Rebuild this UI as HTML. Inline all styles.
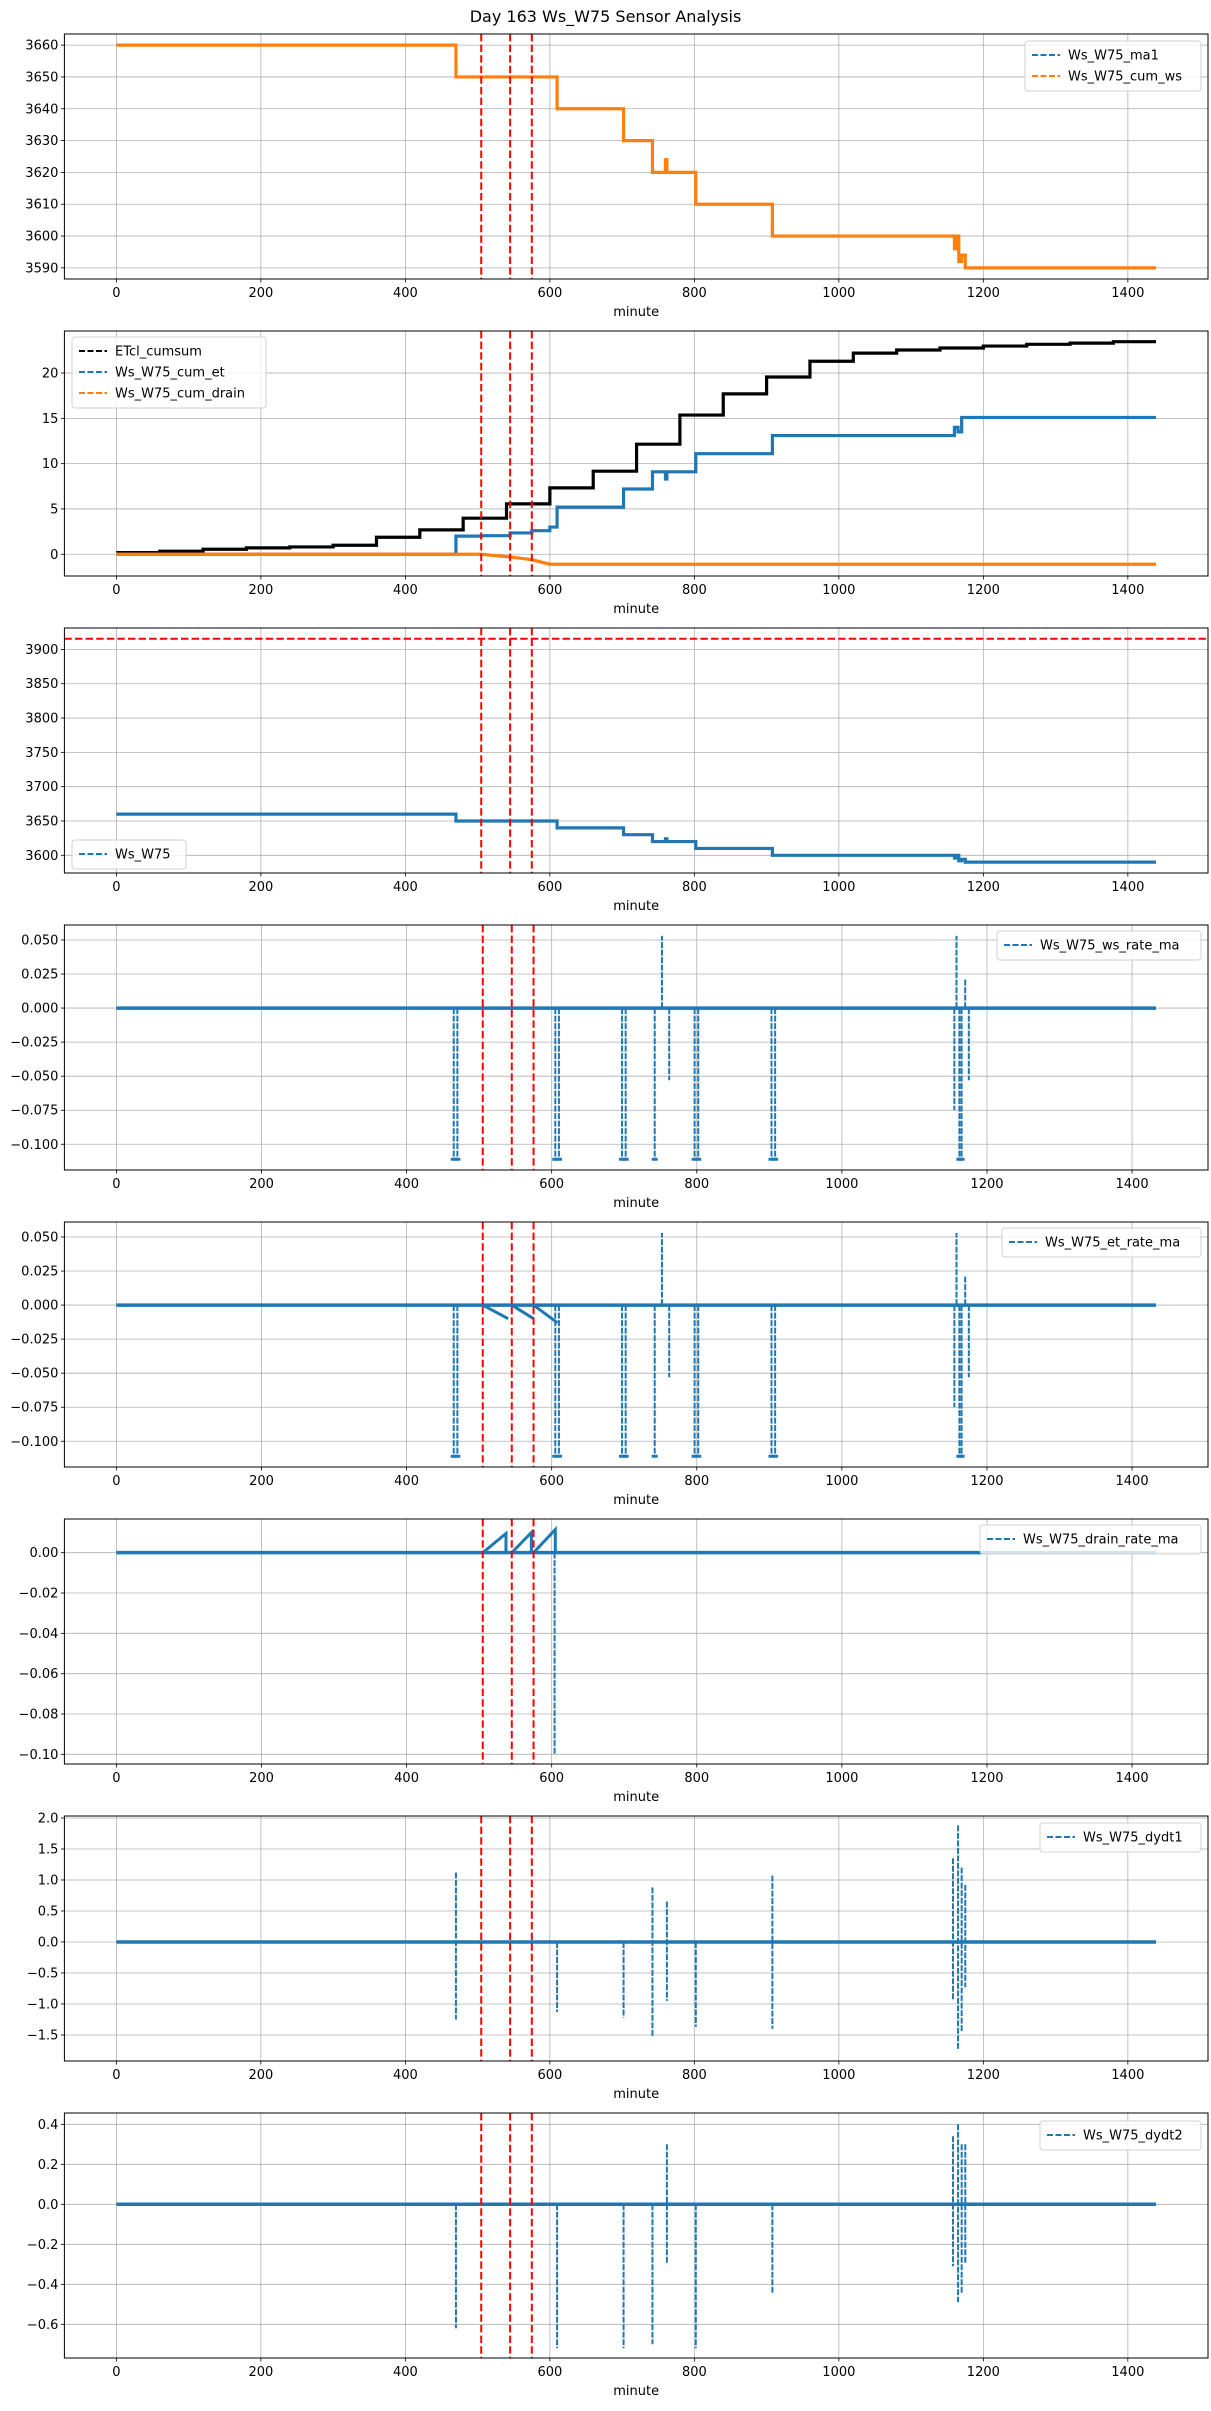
<!DOCTYPE html>
<html><head><meta charset="utf-8"><title>Day 163 Ws_W75 Sensor Analysis</title>
<style>
html,body{margin:0;padding:0;background:#fff;}
svg{display:block;font-family:"DejaVu Sans","Liberation Sans",sans-serif;}
</style></head>
<body>
<svg id="fig" width="1211" height="2411" viewBox="0 0 1211 2411" xmlns="http://www.w3.org/2000/svg">
<rect width="1211" height="2411" fill="#fff"/>
<text x="605.5" y="22" font-size="16" text-anchor="middle">Day 163 Ws_W75 Sensor Analysis</text>
</svg>
<script>
// ---- data ----
const xTickValues = [0,200,400,600,800,1000,1200,1400];
const eventMinutes = [505,545,575];
const wsMinutes = [0,470,610,702,742,760,762,802,908,1160,1163,1166,1170,1175,1439];
const wsValues = [3660,3650,3640,3630,3620,3624,3620,3610,3600,3596,3600,3592,3594,3590,3590];
const etclMinutes = [0,60,120,180,240,300,360,420,480,540,600,660,720,780,840,900,960,1020,1080,1140,1200,1260,1320,1380,1439];
const etclValues = [0.18,0.33,0.55,0.7,0.81,0.99,1.88,2.69,3.98,5.56,7.33,9.17,12.15,15.36,17.7,19.56,21.3,22.2,22.54,22.76,22.98,23.17,23.3,23.46,23.46];
const cumEtMinutes = [0,470,505,545,575,600,610,702,742,760,762,802,908,1160,1165,1170,1439];
const cumEtValues = [0,2.0,2.05,2.35,2.6,3.0,5.2,7.2,9.1,8.3,9.1,11.1,13.1,14.0,13.5,15.1,15.1];
const drainMinutes = [0,505,545,575,600,1439];
const drainValues = [0,0,-0.3,-0.6,-1.1,-1.1];
const refLevel = 3915.6;
const rateSpikeMinutes = [465,470,605,610,697,702,742,752,762,797,802,903,908,1155,1158,1162,1165,1170,1175];
const rateSpikeValues = [-0.111,-0.111,-0.111,-0.111,-0.111,-0.111,-0.111,0.053,-0.053,-0.111,-0.111,-0.111,-0.111,-0.075,0.053,-0.111,-0.111,0.022,-0.053];
const rampStart = [505,545,575];
const rampEnd = [540,575,608];
const etRampValues = [-0.01,-0.01,-0.013];
const drainRampValues = [0.0095,0.01,0.0115];
const drainSpikeMinutes = [604];
const drainSpikeValues = [-0.1];
const d1Minutes = [470,610,702,742,762,802,908,1158,1165,1170,1175];
const d1High = [1.12,0,0,0.88,0.65,0,1.07,1.35,1.88,1.2,0.92];
const d1Low = [-1.25,-1.13,-1.22,-1.52,-0.95,-1.37,-1.4,-0.95,-1.75,-1.45,-0.73];
const d2High = [0,0,0,0,0.30,0,0,0.34,0.40,0.3,0.3];
const d2Low = [-0.62,-0.72,-0.72,-0.70,-0.30,-0.72,-0.45,-0.31,-0.49,-0.45,-0.30];
const ticks1 = [3590,3600,3610,3620,3630,3640,3650,3660];
const ticks2 = [0,5,10,15,20];
const ticks3 = [3600,3650,3700,3750,3800,3850,3900];
const ticksRate = [-0.1,-0.075,-0.05,-0.025,0,0.025,0.05];
const ticksDrain = [-0.1,-0.08,-0.06,-0.04,-0.02,0];
const ticksD1 = [-1.5,-1,-0.5,0,0.5,1,1.5,2];
const ticksD2 = [-0.6,-0.4,-0.2,0,0.2,0.4];

const NS = "http://www.w3.org/2000/svg";
const svg = document.getElementById('fig');
const L = 64.4, R = 1208, H = 245;
const BLUE = '#1f77b4', ORANGE = '#ff7f0e';

function mk(tag, attrs, parent){
  const e = document.createElementNS(NS, tag);
  for (const k in attrs) e.setAttribute(k, attrs[k]);
  (parent||svg).appendChild(e);
  return e;
}

function makePanel(idx, top, ymin, ymax, xmaxData, ticks, fmt){
  const g = mk('g', {});
  
  
  const xmin = -0.05*xmaxData, xmax = xmaxData*1.05;
  const bottom = top + H;
  const sx = m => L + (m - xmin)/(xmax - xmin)*(R - L);
  const sy = v => bottom - (v - ymin)/(ymax - ymin)*H;
  const clipId = 'clip' + idx;
  const cp = mk('clipPath', {id: clipId}, g);
  mk('rect', {x: L, y: top, width: R-L, height: H}, cp);
  // grid
  xTickValues.forEach(t => {
    const x = sx(t);
    const gl = mk('line', {x1:x, x2:x, y1:top, y2:bottom, stroke:'#b0b0b0', 'stroke-width':0.8}, g);
    
    
    mk('line', {x1:x, x2:x, y1:bottom, y2:bottom+3.5, stroke:'#000', 'stroke-width':0.8}, g);
    const tl = mk('text', {x:x, y:bottom+18, 'font-size':13, 'text-anchor':'middle'}, g);
    tl.textContent = t;
    
    
  });
  ticks.forEach(t => {
    const y = sy(t);
    const gl = mk('line', {x1:L, x2:R, y1:y, y2:y, stroke:'#b0b0b0', 'stroke-width':0.8}, g);
    
    
    mk('line', {x1:L-3.5, x2:L, y1:y, y2:y, stroke:'#000', 'stroke-width':0.8}, g);
    const tl = mk('text', {x:L-6, y:y+4.5, 'font-size':13, 'text-anchor':'end'}, g);
    tl.textContent = fmt(t);
    
    
  });
  const xl = mk('text', {x:(L+R)/2, y:bottom+37, 'font-size':13, 'text-anchor':'middle'}, g);
  xl.textContent = 'minute';
  
  
  const plot = mk('g', {'clip-path':'url(#'+clipId+')'}, g);
  return {g, plot, sx, sy, top, bottom};
}

function stepPath(p, mins, vals){
  let d = '';
  for (let i=0;i<mins.length;i++){
    const x = p.sx(mins[i]), y = p.sy(vals[i]);
    if (i===0) d += 'M'+x+','+y;
    else d += 'H'+x+'V'+y;
  }
  return d;
}
function linePath(p, mins, vals){
  return mins.map((m,i)=>(i?'L':'M')+p.sx(m)+','+p.sy(vals[i])).join('');
}
function drawPath(p, d, color, w, name, dash){
  const e = mk('path', {d:d, fill:'none', stroke:color, 'stroke-width':w, 'stroke-linejoin':'miter'}, p.plot);
  if (dash) e.setAttribute('stroke-dasharray', dash);
  
  
  return e;
}
function spikes(p, mins, hi, lo, color, name){
  mins.forEach((m,i)=>{
    const x = p.sx(m);
    const d = 'M'+x+','+p.sy(hi[i])+'L'+x+','+p.sy(lo[i]);
    drawPath(p, d, color, 2, name, '6,1.5');
  });
}
function vlines(p){
  eventMinutes.forEach(m=>{
    const x = p.sx(m);
    const e = mk('line', {x1:x,x2:x,y1:p.top,y2:p.bottom,stroke:'#ff0000','stroke-width':2,'stroke-dasharray':'7.4,3.2'}, p.plot);
    
    
  });
}
function frame(p){
  const e = mk('rect', {x:L, y:p.top, width:R-L, height:H, fill:'none', stroke:'#000', 'stroke-width':1}, p.g);
  
  
}
function legend(p, x, y, w, entries){
  const lg = mk('g', {}, p.g);
  
  
  const h = 8 + entries.length*21;
  mk('rect', {x:x, y:y, width:w, height:h, rx:3, fill:'#fff', 'fill-opacity':0.8, stroke:'#d0d0d0', 'stroke-width':1}, lg);
  entries.forEach((en,i)=>{
    const cy = y + 14 + i*21;
    const ent = mk('g', {}, lg);
    
    
    mk('line', {x1:x+7, x2:x+35, y1:cy, y2:cy, stroke:en[1], 'stroke-width':2, 'stroke-dasharray':'6,2.5'}, ent);
    const t = mk('text', {x:x+43, y:cy+4.5, 'font-size':13}, ent);
    t.textContent = en[0];
  });
}
const f0 = v => String(v);
const f1 = v => v.toFixed(1).replace('-', '\u2212');
const f2 = v => v.toFixed(2).replace('-', '\u2212');
const f3 = v => v.toFixed(3).replace('-', '\u2212');
const fi = v => String(v).replace('-', '\u2212');

function rateSeries(p, extraRamp){
  let pts = [];
  // baseline with spikes
  let d = 'M'+p.sx(0)+','+p.sy(0)+'L'+p.sx(1433)+','+p.sy(0);
  drawPath(p, d, BLUE, 3.5, 'baseline');
  spikes(p, rateSpikeMinutes, rateSpikeMinutes.map(()=>0), rateSpikeValues, BLUE, 'rate-spike');
  rateSpikeMinutes.forEach((m,i)=>{
    if (rateSpikeValues[i] < -0.1){
      const e = mk('line', {x1:p.sx(m)-3,x2:p.sx(m)+3,y1:p.sy(rateSpikeValues[i]),y2:p.sy(rateSpikeValues[i]),stroke:BLUE,'stroke-width':3}, p.plot);
      
      
    }
  });
  if (extraRamp){
    rampStart.forEach((s,i)=>{
      const dd = 'M'+p.sx(s)+','+p.sy(0)+'L'+p.sx(rampEnd[i])+','+p.sy(extraRamp[i]);
      drawPath(p, dd, BLUE, 3, 'rate-ramp');
    });
  }
}

const tops = [34,331,628,925,1222,1519,1816,2113];

// Panel 1
let p = makePanel(0, tops[0], 3586.5, 3663.5, 1439, ticks1, f0);
drawPath(p, stepPath(p, wsMinutes, wsValues), BLUE, 2, 'ws-ma1-line', '6,2');
drawPath(p, stepPath(p, wsMinutes, wsValues), ORANGE, 3.2, 'ws-cum-ws-line');
vlines(p); frame(p);
legend(p, 1025, 41, 176, [['Ws_W75_ma1',BLUE],['Ws_W75_cum_ws',ORANGE]]);

// Panel 2
p = makePanel(1, tops[1], -2.4, 24.64, 1439, ticks2, fi);
drawPath(p, stepPath(p, etclMinutes, etclValues), '#000', 3.2, 'etcl-cumsum-line');
drawPath(p, stepPath(p, cumEtMinutes, cumEtValues), BLUE, 3.2, 'cum-et-line');
drawPath(p, linePath(p, drainMinutes, drainValues), ORANGE, 3.2, 'cum-drain-line');
vlines(p); frame(p);
legend(p, 72, 337, 194, [['ETcl_cumsum','#000'],['Ws_W75_cum_et',BLUE],['Ws_W75_cum_drain',ORANGE]]);

// Panel 3
p = makePanel(2, tops[2], 3574.2, 3931.2, 1439, ticks3, f0);
drawPath(p, stepPath(p, wsMinutes, wsValues), BLUE, 3.2, 'ws-line');
(function(){
  const e = mk('line', {x1:L,x2:R,y1:p.sy(refLevel),y2:p.sy(refLevel),stroke:'#ff0000','stroke-width':2,'stroke-dasharray':'7.4,3.2'}, p.plot);
  
  
})();
vlines(p); frame(p);
legend(p, 72, 840, 114, [['Ws_W75',BLUE]]);

// Panel 4
p = makePanel(3, tops[3], -0.1189, 0.061, 1433, ticksRate, f3);
rateSeries(p, null);
vlines(p); frame(p);
legend(p, 997, 931, 204, [['Ws_W75_ws_rate_ma',BLUE]]);

// Panel 5
p = makePanel(4, tops[4], -0.1189, 0.061, 1433, ticksRate, f3);
rateSeries(p, etRampValues);
vlines(p); frame(p);
legend(p, 1002, 1228, 199, [['Ws_W75_et_rate_ma',BLUE]]);

// Panel 6
p = makePanel(5, tops[5], -0.1048, 0.0167, 1433, ticksDrain, f2);
drawPath(p, 'M'+p.sx(0)+','+p.sy(0)+'L'+p.sx(1433)+','+p.sy(0), BLUE, 3.5, 'baseline');
rampStart.forEach((s,i)=>{
  const dd = 'M'+p.sx(s)+','+p.sy(0)+'L'+p.sx(rampEnd[i]-3)+','+p.sy(drainRampValues[i])+'L'+p.sx(rampEnd[i]-3)+','+p.sy(0);
  drawPath(p, dd, BLUE, 3, 'drain-ramp');
});
spikes(p, drainSpikeMinutes, [0], drainSpikeValues, BLUE, 'drain-spike');
vlines(p); frame(p);
legend(p, 980, 1525, 221, [['Ws_W75_drain_rate_ma',BLUE]]);

// Panel 7
p = makePanel(6, tops[6], -1.92, 2.032, 1439, ticksD1, f1);
drawPath(p, 'M'+p.sx(0)+','+p.sy(0)+'L'+p.sx(1439)+','+p.sy(0), BLUE, 3.5, 'baseline');
spikes(p, d1Minutes, d1High, d1Low, BLUE, 'dydt1-spike');
vlines(p); frame(p);
legend(p, 1040, 1823, 161, [['Ws_W75_dydt1',BLUE]]);

// Panel 8
p = makePanel(7, tops[7], -0.7685, 0.4565, 1439, ticksD2, f1);
drawPath(p, 'M'+p.sx(0)+','+p.sy(0)+'L'+p.sx(1439)+','+p.sy(0), BLUE, 3.5, 'baseline');
spikes(p, d1Minutes, d2High, d2Low, BLUE, 'dydt2-spike');
vlines(p); frame(p);
legend(p, 1040, 2121, 161, [['Ws_W75_dydt2',BLUE]]);
</script>
</body></html>
